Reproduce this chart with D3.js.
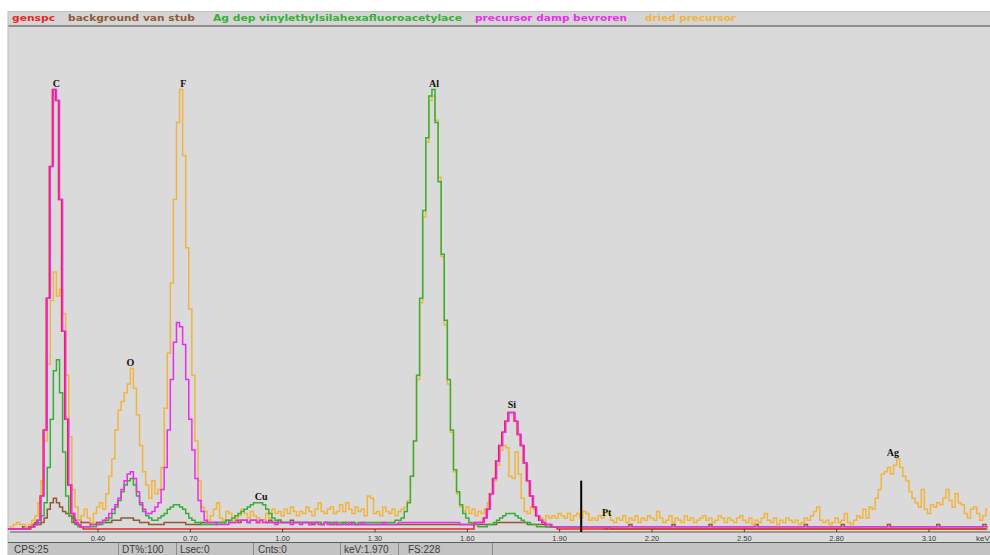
<!DOCTYPE html>
<html>
<head>
<meta charset="utf-8">
<title>EDS spectrum</title>
<script src="https://cdn.jsdelivr.net/npm/d3@7/dist/d3.min.js"></script>
<style>
    body { margin: 0; background: #fff; }
    svg { display: block; }
</style>
</head>
<body>
<div id="chart"></div>
<script>
// energy calibration of the spectra: channel 0 = 0.11 keV, 10 eV per channel
const channelStart = 0.11
const channelWidth = 0.01

const seriesNames = ['genspc', 'background van stub', 'Ag dep vinylethylsilahexafluoroacetylace', 'precursor damp bevroren', 'dried precursor']
const seriesColors = ['#f02424', '#8e5a36', '#34b036', '#ec2cec', '#f2b43c']

// counts per channel
const genspc = [
    0, 0, 0, 0, 0, 0, 0, 0, 1, 2,
    4, 15, 45, 105, 165, 200, 195, 150, 90, 50,
    20, 7, 3, 2, 1, 0, 0, 0, 0, 0,
    0, 0, 0, 0, 0, 0, 0, 0, 0, 0,
    0, 0, 0, 0, 0, 0, 0, 0, 0, 0,
    0, 0, 0, 0, 0, 0, 0, 0, 0, 0,
    0, 0, 0, 0, 0, 0, 0, 0, 0, 0,
    0, 0, 0, 0, 0, 0, 0, 0, 0, 0,
    0, 0, 0, 0, 0, 0, 0, 0, 0, 0,
    0, 0, 0, 0, 0, 0, 0, 0, 0, 0,
    0, 0, 0, 0, 0, 0, 0, 0, 0, 0,
    0, 0, 0, 0, 0, 0, 0, 0, 0, 0,
    0, 0, 0, 0, 0, 0, 0, 0, 0, 0,
    0, 0, 0, 0, 0, 0, 0, 0, 0, 0,
    0, 0, 0, 0, 0, 0, 0, 0, 0, 0,
    0, 0, 3, 3, 3, 5, 9, 16, 23, 31,
    38, 44, 49, 53, 53, 49, 43, 38, 30, 22,
    15, 10, 6, 4, 3, 2, 2, 1, 1, 0,
    0, 0, 0, 0, 0, 0, 0, 0, 0, 0,
    0, 0, 0, 0, 0, 0, 0, 0, 0, 0,
    0, 0, 0, 0, 0, 0, 0, 0, 0, 0,
    0, 0, 0, 0, 0, 0, 0, 0, 0, 0,
    0, 0, 0, 0, 0, 0, 0, 0, 0, 0,
    0, 0, 0, 0, 0, 0, 0, 0, 0, 0,
    0, 0, 0, 0, 0, 0, 0, 0, 0, 0,
    0, 0, 0, 0, 0, 0, 0, 0, 0, 0,
    0, 0, 0, 0, 0, 0, 0, 0, 0, 0,
    0, 0, 0, 0, 0, 0, 0, 0, 0, 0,
    0, 0, 0, 0, 0, 0, 0, 0, 0, 0,
    0, 0, 0, 0, 0, 0, 0, 0, 0, 0,
    0, 0, 0, 0, 0, 0, 0, 0, 0, 0,
    0, 0, 0, 0, 0, 0, 0, 0, 0
]

const backgroundStub = [
    0, 0, 0, 0, 0, 1, 1, 1, 2, 3,
    2, 3, 5, 9, 12, 14, 12, 10, 8, 7,
    6, 5, 4, 4, 3, 3, 3, 2, 2, 3,
    3, 3, 3, 3, 4, 4, 4, 5, 5, 5,
    5, 4, 4, 3, 3, 3, 2, 2, 2, 2,
    2, 3, 3, 3, 3, 3, 3, 3, 2, 2,
    2, 2, 2, 3, 3, 3, 3, 3, 3, 3,
    3, 4, 3, 3, 4, 3, 4, 4, 3, 4,
    4, 3, 4, 4, 3, 4, 3, 3, 4, 3,
    3, 3, 4, 3, 3, 3, 3, 3, 3, 2,
    3, 3, 2, 3, 3, 2, 3, 2, 2, 3,
    2, 2, 3, 2, 2, 2, 2, 2, 2, 2,
    2, 2, 2, 2, 2, 2, 2, 2, 2, 2,
    2, 2, 2, 2, 2, 2, 2, 2, 2, 2,
    2, 2, 2, 2, 2, 2, 2, 2, 2, 2,
    2, 2, 2, 2, 2, 2, 2, 2, 2, 3,
    3, 3, 3, 3, 3, 3, 3, 3, 3, 2,
    2, 2, 2, 2, 2, 1, 1, 1, 1, 1,
    1, 1, 1, 1, 1, 1, 1, 1, 1, 1,
    1, 1, 1, 1, 1, 1, 1, 1, 1, 1,
    1, 1, 2, 1, 1, 1, 1, 1, 1, 1,
    1, 1, 1, 1, 1, 1, 2, 1, 1, 1,
    1, 1, 1, 1, 1, 1, 1, 1, 2, 1,
    1, 1, 1, 1, 1, 1, 1, 1, 1, 1,
    1, 1, 1, 2, 1, 1, 1, 1, 1, 1,
    1, 1, 1, 1, 1, 1, 1, 1, 1, 2,
    1, 1, 1, 1, 1, 1, 1, 1, 1, 1,
    1, 2, 1, 1, 1, 1, 1, 1, 1, 1,
    1, 1, 1, 1, 1, 1, 2, 1, 1, 1,
    1, 1, 1, 1, 1, 1, 1, 1, 1, 1,
    1, 1, 2, 1, 1, 1, 1, 1, 1, 1,
    1, 1, 1, 1, 1, 1, 1, 2, 1
]

const agDeposit = [
    0, 0, 0, 0, 0, 0, 0, 1, 1, 2,
    3, 6, 12, 28, 50, 72, 77, 62, 35, 15,
    6, 3, 2, 1, 1, 1, 1, 1, 1, 2,
    2, 3, 4, 5, 7, 10, 13, 17, 20, 22,
    23, 20, 15, 11, 8, 6, 5, 4, 4, 5,
    6, 7, 9, 10, 11, 11, 10, 9, 7, 5,
    4, 3, 3, 2, 2, 2, 2, 2, 3, 3,
    3, 4, 4, 5, 6, 7, 8, 9, 10, 11,
    12, 12, 12, 11, 9, 7, 5, 4, 4, 3,
    3, 3, 3, 3, 3, 3, 3, 3, 2, 3,
    3, 3, 2, 3, 3, 3, 2, 3, 3, 3,
    3, 3, 3, 2, 3, 3, 3, 3, 3, 3,
    3, 3, 3, 3, 3, 3, 4, 4, 5, 8,
    12, 24, 40, 70, 105, 145, 178, 197, 200, 185,
    158, 125, 95, 68, 45, 27, 17, 11, 7, 5,
    3, 2, 2, 1, 1, 1, 2, 2, 3, 4,
    5, 6, 7, 7, 7, 6, 5, 4, 3, 3,
    2, 2, 1, 1, 1, 1, 1, 1, 1, 1,
    1, 1, 1, 1, 1, 1, 1, 1, 1, 1,
    1, 1, 1, 1, 0, 1, 0, 0, 0, 0,
    0, 0, 0, 0, 0, 0, 0, 0, 0, 0,
    0, 0, 0, 0, 0, 0, 0, 0, 0, 0,
    0, 0, 0, 0, 0, 0, 0, 0, 0, 0,
    0, 0, 0, 0, 0, 0, 0, 0, 0, 0,
    0, 0, 0, 0, 0, 0, 0, 0, 0, 0,
    0, 0, 0, 0, 0, 0, 0, 0, 0, 0,
    0, 0, 0, 0, 0, 0, 0, 0, 0, 0,
    0, 0, 0, 0, 0, 0, 0, 0, 0, 0,
    0, 0, 0, 0, 0, 0, 0, 0, 0, 0,
    0, 0, 0, 0, 0, 0, 0, 0, 0, 0,
    0, 0, 0, 0, 0, 0, 0, 0, 0, 0,
    0, 0, 0, 0, 0, 0, 0, 0, 0
]

const precursorDamp = [
    0, 0, 0, 0, 0, 0, 0, 1, 1, 2,
    4, 15, 45, 105, 165, 200, 195, 150, 90, 50,
    20, 7, 3, 2, 1, 1, 1, 2, 2, 2,
    3, 4, 5, 7, 9, 11, 14, 18, 22, 25,
    26, 23, 17, 12, 9, 7, 7, 8, 10, 12,
    18, 28, 45, 68, 85, 94, 92, 84, 68, 50,
    36, 23, 13, 8, 4, 3, 3, 3, 2, 2,
    2, 2, 3, 3, 3, 4, 4, 4, 3, 4,
    4, 3, 4, 3, 3, 3, 3, 2, 3, 3,
    3, 3, 2, 3, 3, 2, 3, 3, 2, 3,
    3, 2, 2, 3, 2, 2, 3, 2, 2, 2,
    2, 3, 2, 2, 2, 3, 2, 2, 2, 2,
    2, 2, 3, 2, 2, 2, 2, 3, 3, 3,
    3, 3, 3, 3, 3, 3, 3, 3, 3, 3,
    3, 3, 3, 3, 3, 3, 3, 2, 2, 2,
    2, 2, 3, 3, 3, 5, 9, 16, 23, 31,
    38, 44, 49, 53, 53, 49, 43, 38, 30, 22,
    15, 10, 6, 4, 3, 2, 2, 1, 1, 1,
    1, 1, 1, 1, 1, 1, 1, 1, 1, 1,
    1, 1, 1, 1, 1, 1, 1, 1, 1, 1,
    1, 1, 1, 1, 1, 1, 1, 1, 1, 1,
    1, 1, 1, 1, 1, 1, 1, 1, 1, 1,
    1, 1, 1, 1, 1, 1, 1, 1, 1, 1,
    1, 1, 1, 1, 1, 1, 1, 1, 1, 1,
    1, 1, 1, 1, 1, 1, 1, 1, 1, 1,
    1, 1, 1, 1, 1, 1, 1, 1, 1, 1,
    1, 1, 1, 1, 1, 1, 1, 1, 1, 1,
    1, 1, 1, 1, 1, 1, 1, 1, 1, 1,
    1, 1, 1, 1, 1, 1, 1, 1, 1, 1,
    1, 1, 1, 1, 1, 1, 1, 1, 1, 1,
    1, 1, 1, 1, 1, 1, 1, 1, 1, 1,
    1, 1, 1, 1, 1, 1, 1, 1, 1
]

const driedPrecursor = [
    0, 1, 2, 3, 2, 2, 1, 2, 4, 6,
    12, 22, 40, 75, 104, 117, 106, 109, 98, 70,
    42, 18, 10, 4, 6, 9, 5, 3, 7, 10,
    12, 9, 16, 24, 32, 45, 54, 58, 62, 66,
    73, 64, 52, 38, 26, 20, 14, 22, 16, 18,
    28, 55, 80, 112, 150, 185, 200, 170, 128, 100,
    70, 40, 22, 10, 8, 4, 6, 9, 12, 5,
    4, 8, 7, 3, 5, 6, 9, 7, 5, 8,
    6, 5, 3, 4, 7, 5, 9, 7, 8, 6,
    9, 7, 10, 8, 6, 8, 7, 10, 8, 6,
    9, 12, 8, 7, 9, 10, 7, 8, 11, 8,
    12, 9, 7, 10, 8, 9, 6, 15, 14, 7,
    8, 6, 10, 8, 7, 9, 6, 8, 9, 10,
    13, 24, 40, 68, 103, 142, 176, 195, 197, 186,
    160, 124, 93, 66, 44, 26, 16, 10, 8, 10,
    7, 9, 6, 8, 7, 9, 12, 16, 22, 29,
    36, 38, 37, 24, 23, 35, 25, 14, 8, 7,
    10, 9, 6, 5, 4, 6, 5, 6, 5, 7,
    6, 5, 7, 4, 6, 7, 5, 8, 7, 4,
    5, 4, 6, 5, 8, 7, 4, 3, 5, 4,
    6, 3, 5, 4, 6, 3, 5, 4, 6, 5,
    4, 8, 5, 3, 4, 6, 3, 5, 4, 3,
    6, 4, 5, 3, 4, 5, 6, 4, 5, 3,
    4, 6, 5, 3, 5, 4, 3, 5, 6, 4,
    3, 5, 2, 4, 3, 5, 7, 4, 3, 5,
    2, 4, 3, 5, 4, 3, 4, 2, 3, 5,
    4, 6, 8, 10, 4, 3, 4, 2, 3, 5,
    3, 4, 7, 3, 2, 4, 6, 5, 9, 5,
    10, 9, 14, 18, 25, 26, 28, 25, 29, 32,
    28, 24, 22, 17, 14, 12, 10, 18, 9, 7,
    11, 10, 12, 11, 14, 18, 13, 10, 16, 12,
    11, 7, 5, 9, 10, 7, 4, 6, 9
]

// element lines: label, energy (keV), height of the label (counts)
const elementNames = ['C', 'O', 'F', 'Cu', 'Al', 'Si', 'Pt', 'Ag']
const elementEnergies = [0.265, 0.505, 0.677, 0.93, 1.492, 1.745, 2.053, 2.983]
const elementLabelCounts = [201, 74, 201, 13, 201, 55, 6, 33]

const tickValues = [0.40, 0.70, 1.00, 1.30, 1.60, 1.90, 2.20, 2.50, 2.80, 3.10]

// cursor marker and status bar
const cursorKeV = 1.970
const cursorCounts = 22
const statusLabels = ['CPS:25', 'DT%:100', 'Lsec:0', 'Cnts:0', 'keV:1.970', 'FS:228']

const fullScale = 228
const keVMin = 0.1076, keVMax = 3.2982

const width = 990, height = 555
const plotLeft = 8, plotTop = 28, zeroY = 529, axisY = 532

const svg = d3.select('#chart')
    .append('svg')
    .attr('width', width)
    .attr('height', height)

const x = d3.scaleLinear().domain([keVMin, keVMax]).range([plotLeft, width])
const y = d3.scaleLinear().domain([0, fullScale]).range([zeroY, plotTop])

// panels
svg.append('rect').attr('x', plotLeft).attr('y', 11).attr('width', width - plotLeft).attr('height', 531).attr('fill', '#dadada')
svg.append('rect').attr('x', plotLeft).attr('y', 11).attr('width', width - plotLeft).attr('height', 15).attr('fill', '#d5d5d5')
svg.append('line').attr('x1', plotLeft).attr('x2', width).attr('y1', 11.5).attr('y2', 11.5).attr('stroke', '#c2c2c2')
svg.append('line').attr('x1', plotLeft).attr('x2', width).attr('y1', 26).attr('y2', 26).attr('stroke', '#8f8f8f').attr('stroke-width', 2)
svg.append('line').attr('x1', plotLeft).attr('x2', plotLeft).attr('y1', 11).attr('y2', 555).attr('stroke', '#bdbdbd')

// legend
const legendX = [12, 68, 213, 475, 645]
const legendW = [43, 127, 249, 152, 91]
svg.append('g')
    .selectAll('text')
    .data(seriesNames)
    .join('text')
    .attr('x', (d, i) => legendX[i])
    .attr('y', 21)
    .attr('textLength', (d, i) => legendW[i])
    .attr('lengthAdjust', 'spacingAndGlyphs')
    .attr('fill', (d, i) => seriesColors[i])
    .style('font-family', 'DejaVu Sans, sans-serif')
    .style('font-weight', 'bold')
    .style('font-size', '9.5px')
    .text(d => d)

// spectra, drawn as step lines; genspc sits just left of and under the magenta one
const spectra = [genspc, backgroundStub, agDeposit, precursorDamp, driedPrecursor]
const drawOrder = [1, 4, 2, 0, 3]
const line = d3.line()
    .x((d, i) => x(channelStart + i * channelWidth))
    .y(d => y(d))
    .curve(d3.curveStep)

const plot = svg.append('g')
plot.selectAll('path')
    .data(drawOrder)
    .join('path')
    .attr('d', k => line(spectra[k]))
    .attr('fill', 'none')
    .attr('stroke', k => seriesColors[k])
    .attr('stroke-width', 1.5)
    .attr('transform', k => k === 0 ? 'translate(-1,0)' : null)

// x axis
svg.append('line').attr('x1', 10).attr('x2', width).attr('y1', axisY).attr('y2', axisY).attr('stroke', '#5a5a5a')
const axis = svg.append('g')
axis.selectAll('line')
    .data(tickValues)
    .join('line')
    .attr('x1', d => x(d)).attr('x2', d => x(d))
    .attr('y1', axisY - 3).attr('y2', axisY)
    .attr('stroke', '#444')
axis.selectAll('text')
    .data(tickValues)
    .join('text')
    .attr('x', d => x(d))
    .attr('y', 541)
    .attr('text-anchor', 'middle')
    .attr('fill', '#3a3a3a')
    .style('font-family', 'Liberation Sans, sans-serif')
    .style('font-size', '7.5px')
    .text(d3.format('.2f'))
svg.append('text')
    .attr('x', 976).attr('y', 541)
    .attr('fill', '#3a3a3a')
    .style('font-family', 'Liberation Sans, sans-serif')
    .style('font-size', '8px')
    .text('keV')

// cursor
svg.append('line')
    .attr('x1', x(cursorKeV)).attr('x2', x(cursorKeV))
    .attr('y1', y(cursorCounts)).attr('y2', axisY)
    .attr('stroke', '#000').attr('stroke-width', 2)

// element labels
svg.append('g')
    .selectAll('text')
    .data(elementNames)
    .join('text')
    .attr('x', (d, i) => x(elementEnergies[i]))
    .attr('y', (d, i) => y(elementLabelCounts[i]))
    .attr('text-anchor', 'middle')
    .attr('fill', '#111')
    .style('font-family', 'Liberation Serif, serif')
    .style('font-weight', 'bold')
    .style('font-size', '10px')
    .text(d => d)

// status bar
svg.append('rect').attr('x', plotLeft).attr('y', 542).attr('width', width - plotLeft).attr('height', 13).attr('fill', '#c3c3c3')
svg.append('line').attr('x1', plotLeft).attr('x2', width).attr('y1', 542.5).attr('y2', 542.5).attr('stroke', '#5e5e5e')
const cellEdges = [118, 176, 253, 340, 398, 492]
svg.append('g')
    .selectAll('line')
    .data(cellEdges)
    .join('line')
    .attr('x1', d => d + 0.5).attr('x2', d => d + 0.5)
    .attr('y1', 543).attr('y2', 555)
    .attr('stroke', '#8a8a8a')
const statusX = [14, 122, 180, 258, 344, 408]
svg.append('g')
    .selectAll('text')
    .data(statusLabels)
    .join('text')
    .attr('x', (d, i) => statusX[i])
    .attr('y', 552.5)
    .attr('fill', '#3c3c3c')
    .style('font-family', 'Liberation Sans, sans-serif')
    .style('font-size', '10px')
    .text(d => d)
</script>
</body>
</html>
